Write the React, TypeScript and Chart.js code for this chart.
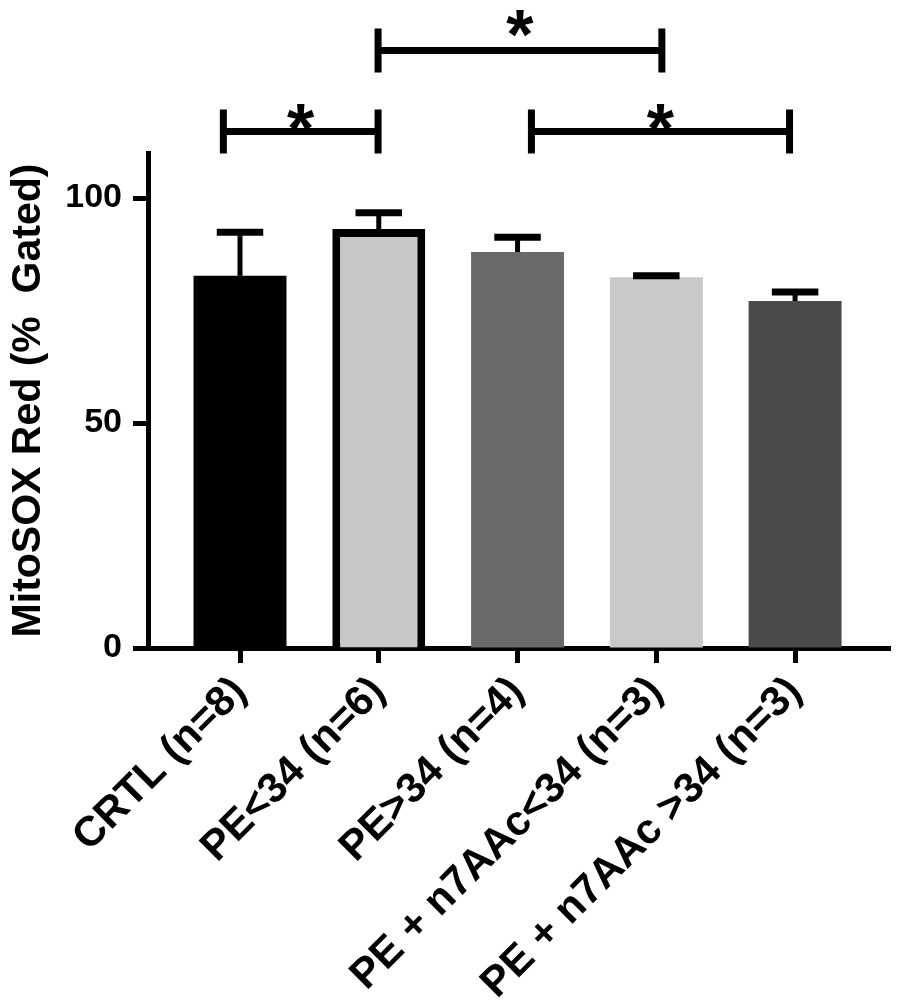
import React, { useEffect, useRef } from 'react';
import { Chart, registerables } from 'chart.js';

Chart.register(...registerables);

const FONT = '"Liberation Sans", Arial, Helvetica, sans-serif';

// ---- data ----
const categories = ['CRTL (n=8)', 'PE<34 (n=6)', 'PE>34 (n=4)', 'PE + n7AAc<34 (n=3)', 'PE + n7AAc >34 (n=3)'];
const means = [82.7, 93.1, 88.0, 82.4, 77.1];
const errors = [9.7, 3.6, 3.3, 0.3, 2.0];
const barColors = ['#000000', '#c8c8c8', '#6a6a6a', '#c9c9c9', '#4a4a4a'];
const barBorderWidths = [0, 8, 0, 0, 0];
const yTickValues = [0, 50, 100];

// significance brackets (x in category units, y in axis units)
const bracketFrom = [-0.12, 0.995, 2.1];
const bracketTo = [0.995, 3.04, 3.96];
const bracketY = [114.8, 132.8, 114.8];
const bracketMarkBottomY = [116.7, 137.6, 116.7];
const bracketMarks = ['*', '*', '*'];

const X_MIN = -0.663;
const X_MAX = 4.684;
const Y_MIN = 0;
const Y_MAX = 110;

const errorBarPlugin = {
  id: 'errorBars',
  afterDatasetsDraw(chart: any) {
    const meta = chart.getDatasetMeta(0);
    const ys = chart.scales.y;
    const c = chart.ctx;
    c.save();
    c.strokeStyle = '#000';
    c.lineCap = 'butt';
    meta.data.forEach((bar: any, i: number) => {
      const top = ys.getPixelForValue(means[i] + errors[i]);
      const half = bar.width / 4;
      c.lineWidth = 5;
      c.beginPath();
      c.moveTo(bar.x, bar.y);
      c.lineTo(bar.x, top);
      c.stroke();
      c.lineWidth = 7;
      c.beginPath();
      c.moveTo(bar.x - half, top);
      c.lineTo(bar.x + half, top);
      c.stroke();
    });
    c.restore();
  },
};

const bracketPlugin = {
  id: 'brackets',
  afterDraw(chart: any) {
    const xs = chart.scales.x;
    const ys = chart.scales.y;
    const c = chart.ctx;
    c.save();
    c.strokeStyle = '#000';
    c.fillStyle = '#000';
    c.lineCap = 'butt';
    c.lineWidth = 7;
    const markSize = 70;
    c.font = `bold ${markSize}px ${FONT}`;
    c.textAlign = 'center';
    c.textBaseline = 'alphabetic';
    bracketFrom.forEach((from, k) => {
      const x1 = xs.getPixelForValue(from);
      const x2 = xs.getPixelForValue(bracketTo[k]);
      const yy = ys.getPixelForValue(bracketY[k]);
      c.beginPath();
      c.moveTo(x1, yy);
      c.lineTo(x2, yy);
      c.moveTo(x1, yy - 22);
      c.lineTo(x1, yy + 22);
      c.moveTo(x2, yy - 22);
      c.lineTo(x2, yy + 22);
      c.stroke();
      const my = ys.getPixelForValue(bracketMarkBottomY[k]);
      c.fillText(bracketMarks[k], (x1 + x2) / 2, my + 0.43 * markSize);
    });
    c.restore();
  },
};

export default function App() {
  const ref = useRef<HTMLCanvasElement>(null);
  useEffect(() => {
    const canvas = ref.current;
    if (!canvas) return;
    Chart.defaults.font.family = FONT;
    const chart = new Chart(canvas, {
      type: 'bar',
      data: {
        datasets: [
          {
            data: categories.map((_, i) => ({ x: i, y: means[i] })),
            backgroundColor: barColors,
            borderColor: '#000000',
            borderWidth: barBorderWidths,
            borderSkipped: 'start',
            categoryPercentage: 1,
            barPercentage: 0.67,
          } as any,
        ],
      },
      options: {
        responsive: false,
        animation: false,
        layout: { padding: { top: 153, right: 10, left: 0, bottom: 0 } },
        plugins: { legend: { display: false }, tooltip: { enabled: false } },
        scales: {
          x: {
            type: 'linear',
            offset: false,
            min: X_MIN,
            max: X_MAX,
            afterFit: (s: any) => {
              s.height = 356;
            },
            afterBuildTicks: (s: any) => {
              s.ticks = categories.map((_, i) => ({ value: i }));
            },
            grid: { display: true, offset: false, drawOnChartArea: false, drawTicks: true, tickLength: 15, tickWidth: 5, tickColor: '#000' },
            border: { display: true, width: 5, color: '#000' },
            ticks: {
              autoSkip: false,
              maxRotation: 45,
              minRotation: 45,
              padding: 4,
              color: '#000',
              font: { family: FONT, size: 42, weight: 'bold' },
              callback: (v: any) => (categories[v] !== undefined ? categories[v] : ''),
            },
          },
          y: {
            type: 'linear',
            min: Y_MIN,
            max: Y_MAX,
            afterFit: (s: any) => {
              s.width = 148;
            },
            afterBuildTicks: (s: any) => {
              s.ticks = yTickValues.map((v) => ({ value: v }));
            },
            grid: { display: true, drawOnChartArea: false, drawTicks: true, tickLength: 15, tickWidth: 5, tickColor: '#000' },
            border: { display: true, width: 5, color: '#000' },
            ticks: {
              padding: 11,
              color: '#000',
              font: { family: FONT, size: 34, weight: 'bold' },
            },
            title: {
              display: true,
              text: 'MitoSOX Red (%  Gated)',
              color: '#000',
              font: { family: FONT, size: 41, weight: 'bold' },
              padding: { top: 4, bottom: 0 },
            },
          },
        },
      } as any,
      plugins: [errorBarPlugin, bracketPlugin],
    });
    return () => chart.destroy();
  }, []);
  return (
    <div style={{ position: 'absolute', left: 0, top: 0, width: 900, height: 1004, background: '#fff' }}>
      <canvas ref={ref} width={900} height={1004} style={{ display: 'block' }} />
    </div>
  );
}
